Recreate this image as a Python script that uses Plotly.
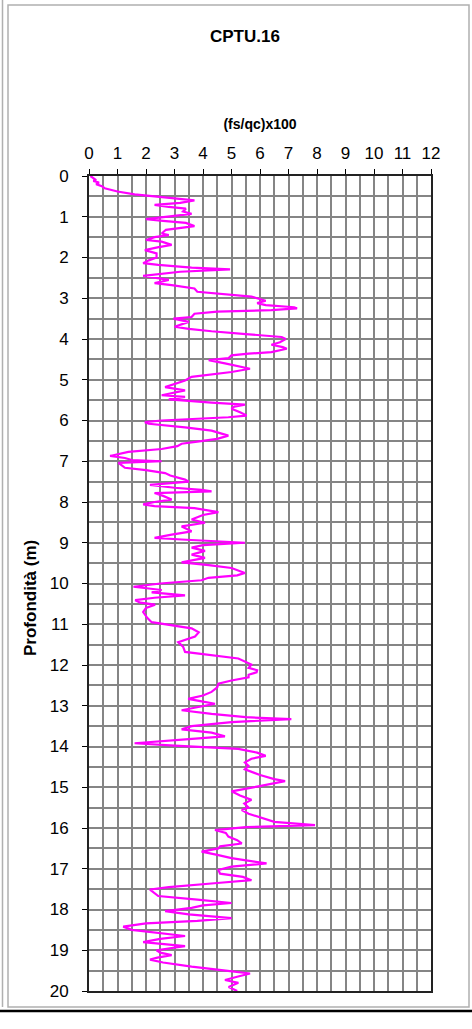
import plotly.graph_objects as go

# Depth (m) and (fs/qc)x100
depth = [0.00, 0.05, 0.10, 0.12, 0.16, 0.20, 0.25, 0.30, 0.38, 0.45, 0.50, 0.55, 0.60, 0.66, 0.71, 0.76,
         0.80, 0.87, 0.93, 1.00, 1.06, 1.10, 1.15, 1.23, 1.32, 1.41, 1.45, 1.50, 1.57, 1.61, 1.69, 1.75,
         1.82, 1.90, 2.00, 2.07, 2.14, 2.18, 2.25, 2.29, 2.35, 2.45, 2.51, 2.55, 2.60, 2.63, 2.68, 2.76,
         2.84, 2.90, 2.96, 3.06, 3.12, 3.17, 3.22, 3.25, 3.29, 3.33, 3.38, 3.46, 3.50, 3.58, 3.65, 3.70,
         3.75, 3.81, 3.88, 3.95, 4.00, 4.08, 4.14, 4.20, 4.24, 4.32, 4.36, 4.40, 4.47, 4.52, 4.60, 4.73,
         4.81, 4.87, 4.93, 5.02, 5.10, 5.18, 5.26, 5.34, 5.38, 5.42, 5.48, 5.56, 5.61, 5.66, 5.71, 5.80,
         5.88, 5.92, 5.96, 6.00, 6.04, 6.08, 6.17, 6.25, 6.37, 6.45, 6.52, 6.57, 6.63, 6.70, 6.77, 6.87,
         6.92, 6.97, 7.00, 7.04, 7.10, 7.16, 7.22, 7.29, 7.35, 7.45, 7.50, 7.55, 7.58, 7.65, 7.70, 7.74,
         7.78, 7.85, 7.94, 8.00, 8.06, 8.10, 8.15, 8.25, 8.32, 8.43, 8.51, 8.60, 8.66, 8.72, 8.80, 8.88,
         8.92, 9.00, 9.06, 9.12, 9.20, 9.29, 9.37, 9.48, 9.55, 9.62, 9.74, 9.80, 9.86, 9.92, 10.00, 10.08,
         10.16, 10.22, 10.29, 10.35, 10.41, 10.47, 10.52, 10.60, 10.70, 10.85, 10.95, 11.05, 11.10, 11.20,
         11.30, 11.44, 11.55, 11.68, 11.78, 11.84, 11.99, 12.07, 12.13, 12.18, 12.24, 12.30, 12.38, 12.46,
         12.55, 12.66, 12.75, 12.83, 12.90, 12.95, 13.05, 13.11, 13.20, 13.28, 13.33, 13.40, 13.50, 13.58,
         13.66, 13.75, 13.82, 13.92, 13.98, 14.06, 14.15, 14.23, 14.30, 14.39, 14.48, 14.56, 14.70, 14.80,
         14.85, 14.92, 14.98, 15.10, 15.20, 15.31, 15.40, 15.50, 15.56, 15.65, 15.72, 15.85, 15.93, 15.98,
         16.05, 16.12, 16.21, 16.30, 16.38, 16.45, 16.50, 16.58, 16.66, 16.74, 16.87, 16.95, 17.03, 17.12,
         17.20, 17.28, 17.35, 17.45, 17.51, 17.60, 17.67, 17.76, 17.84, 17.90, 17.96, 18.04, 18.12, 18.21,
         18.28, 18.34, 18.42, 18.50, 18.58, 18.65, 18.72, 18.80, 18.90, 19.00, 19.06, 19.12, 19.18, 19.23,
         19.30, 19.40, 19.50, 19.57, 19.65, 19.73, 19.80, 19.90, 20.00]

ratio = [0.05, 0.15, 0.25, 0.15, 0.35, 0.25, 0.45, 0.55, 1.0, 1.6, 2.2, 3.0, 3.7, 3.2, 2.3, 2.8,
         3.4, 3.3, 3.6, 2.7, 2.0, 2.6, 3.4, 3.7, 2.7, 2.55, 2.8, 2.3, 2.0, 2.55, 2.9, 2.4,
         1.96, 2.37, 2.37, 2.1, 1.9, 2.43, 3.6, 4.95, 3.2, 1.9, 2.37, 2.8, 2.5, 2.3, 2.9, 3.7,
         3.8, 4.8, 5.7, 6.2, 5.9, 6.2, 7.2, 7.3, 6.4, 4.5, 3.7, 3.6, 2.96, 3.5, 3.2, 3.0,
         3.5, 4.3, 5.5, 6.76, 6.9, 6.7, 6.4, 6.8, 6.94, 6.4, 5.6, 5.0, 4.9, 4.2, 4.77, 5.65,
         5.0, 4.2, 3.6, 3.37, 3.0, 2.67, 3.37, 2.78, 2.55, 3.37, 2.8, 4.3, 5.47, 5.1, 5.0, 5.3,
         5.53, 4.89, 3.5, 2.55, 1.96, 2.1, 3.37, 4.3, 4.89, 4.5, 3.8, 3.25, 3.1, 2.55, 1.38, 0.74,
         1.26, 1.5, 2.55, 1.03, 1.15, 1.26, 2.0, 2.67, 2.85, 3.37, 3.5, 2.5, 2.14, 3.0, 3.95, 4.3,
         2.3, 2.6, 2.9, 2.3, 1.9, 2.3, 3.7, 4.54, 4.0, 3.6, 4.07, 3.25, 3.4, 3.6, 2.9, 2.3,
         3.25, 5.47, 4.0, 3.6, 4.07, 3.6, 4.07, 3.25, 4.2, 5.0, 5.47, 5.2, 4.19, 3.95, 2.5, 1.56,
         2.55, 2.2, 3.37, 2.3, 1.62, 1.8, 2.32, 2.0, 1.9, 2.05, 2.2, 3.2, 3.6, 3.85,
         3.72, 3.13, 3.3, 3.37, 4.5, 5.24, 5.7, 5.6, 5.9, 5.88, 5.6, 5.6, 5.0, 4.54,
         4.5, 4.3, 4.0, 3.48, 4.0, 4.42, 3.7, 3.25, 4.3, 5.5, 7.1, 5.0, 3.6, 3.25,
         4.3, 4.77, 3.5, 1.6, 3.0, 5.24, 5.9, 6.2, 5.7, 5.47, 5.6, 5.47, 6.0, 6.5,
         6.88, 6.4, 5.94, 5.0, 5.3, 5.7, 5.45, 5.6, 5.36, 5.6, 5.94, 6.5, 7.93, 5.5,
         4.42, 4.8, 4.89, 5.2, 5.36, 4.6, 4.54, 3.95, 4.5, 5.0, 6.23, 5.0, 4.54, 4.6,
         5.4, 5.7, 4.5, 2.8, 2.14, 2.3, 2.43, 3.8, 5.0, 4.0, 3.6, 2.67, 3.5, 5.0,
         3.8, 2.0, 1.2, 1.5, 2.5, 3.37, 2.5, 1.9, 3.37, 2.37, 2.5, 2.9, 2.4, 2.14,
         2.6, 3.6, 4.8, 5.65, 5.2, 4.77, 5.24, 4.9, 5.2]

x_ticks = list(range(0, 13))
y_ticks = list(range(0, 21))

FONT = "Liberation Sans, Arial, sans-serif"

fig = go.Figure()
fig.add_trace(go.Scatter(
    x=ratio, y=depth, mode="lines",
    line=dict(color="#FF00FF", width=2.2),
    showlegend=False, hoverinfo="skip",
))

grid = "#858585"
fig.update_layout(
    width=472, height=1029,
    margin=dict(l=89, r=41, t=176, b=38),
    paper_bgcolor="white", plot_bgcolor="white",
    font=dict(family=FONT, color="black"),
    xaxis=dict(
        side="top", range=[0, 12], tickvals=x_ticks,
        ticks="outside", ticklen=5, tickcolor="black", tickwidth=1,
        tickfont=dict(size=17), ticklabelstandoff=3,
        showgrid=True, gridcolor=grid, gridwidth=1.6,
        minor=dict(dtick=0.5, showgrid=True, gridcolor=grid, gridwidth=1.6),
        showline=True, linecolor="#222", linewidth=2, mirror=True,
        zeroline=False,
        title=dict(text="<b>(fs/qc)x100</b>", font=dict(size=14), standoff=11),
    ),
    yaxis=dict(
        range=[20, 0], tickvals=y_ticks,
        ticks="outside", ticklen=5, tickcolor="black", tickwidth=1,
        tickfont=dict(size=17), ticklabelstandoff=10,
        showgrid=True, gridcolor=grid, gridwidth=1.6,
        minor=dict(dtick=0.5, showgrid=True, gridcolor=grid, gridwidth=1.6),
        showline=True, linecolor="#222", linewidth=2, mirror=True,
        zeroline=False,
    ),
    annotations=[
        dict(text="<b>CPTU.16</b>", xref="paper", yref="paper",
             x=(245 - 89) / 342, y=(991 - 36) / 815,
             showarrow=False, font=dict(size=17, family=FONT), xanchor="center", yanchor="middle"),
        dict(text="<b>Profondità (m)</b>", xref="paper", yref="paper",
             x=(30 - 89) / 342, y=(991 - 598) / 815, textangle=-90,
             showarrow=False, font=dict(size=17, family=FONT), xanchor="center", yanchor="middle"),
    ],
    shapes=[
        dict(type="line", xref="x", yref="paper", x0=7, x1=7, y0=0, y1=1,
             line=dict(color="#333", width=1), layer="below"),
        # page frame
        dict(type="rect", xref="paper", yref="paper",
             x0=(8 - 89) / 342, x1=(469 - 89) / 342, y0=(991 - 1007) / 815, y1=(991 - 5) / 815,
             line=dict(color="#b0b0b0", width=1.5)),
        dict(type="line", xref="paper", yref="paper",
             x0=(2.5 - 89) / 342, x1=(2.5 - 89) / 342, y0=(991 - 1007) / 815, y1=(991 - 0) / 815,
             line=dict(color="#b0b0b0", width=1.5)),
        dict(type="line", xref="paper", yref="paper",
             x0=(0 - 89) / 342, x1=(472 - 89) / 342, y0=(991 - 1011) / 815, y1=(991 - 1011) / 815,
             line=dict(color="black", width=2.5)),
    ],
)

fig.write_html(
    "out.html",
    config={"displayModeBar": False},
    post_script="document.body.style.margin='0';document.body.style.overflow='hidden';",
)
